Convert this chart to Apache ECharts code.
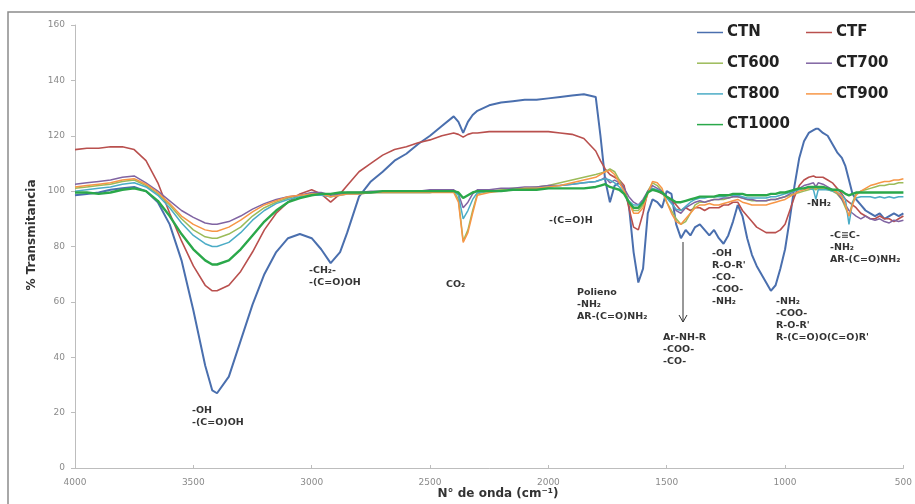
<!DOCTYPE html>
<html><head><meta charset="utf-8">
<script src="https://cdn.jsdelivr.net/npm/echarts@6/dist/echarts.min.js"></script>
<style>html,body{margin:0;padding:0;background:#fff}#c{width:915px;height:504px}</style>
</head><body><div id="c"></div>
<script>
// Wavenumbers (cm-1)
const wn = [4000,3950,3900,3850,3800,3750,3700,3650,3600,3550,
3500,3450,3420,3400,3350,3300,3250,3200,3150,3100,
3050,3000,2960,2920,2880,2850,2800,2750,2700,2650,
2600,2550,2500,2450,2400,2380,2360,2340,2320,2300,
2250,2200,2150,2100,2050,2000,1950,1900,1850,1800,
1780,1760,1740,1720,1700,1680,1660,1640,1620,1600,
1580,1560,1540,1520,1500,1480,1460,1440,1420,1400,
1380,1360,1340,1320,1300,1280,1260,1240,1220,1200,
1180,1160,1140,1120,1100,1080,1060,1040,1020,1000,
980,960,940,920,900,880,870,860,840,820,
800,780,760,745,730,715,700,680,660,640,
620,600,580,560,540,520,500];

const CTN = [98.5,99,99.5,100.5,101,101.5,100,96,88,75,
57,37,28,27,33,46,59,70,78,83,
84.5,83,79,74,78,85,98,103.5,107,111,
113.5,117,120,123.5,127,125,121,125,127.5,129,
131,132,132.5,133,133,133.5,134,134.5,135,134,
120,104,96,102,103,101,95,78,67,72,
92,97,96,94,100,99,88,83,86,84,
87,88,86,84,86,83,81,84,89,95,
91,83,77,73,70,67,64,66,72,79,
90,102,112,118,121,122,122.5,122.5,121,120,
117,114,112,109,104,99,97,95,93,92,
91,92,90,91,92,91,92];

const CTF = [115,115.5,115.5,116,116,115,111,103,92,82,
73,66,64,64,66,71,78,86,92,96,
99,100.5,99,96,99,102,107,110,113,115,
116,117.5,118.5,120,121,120.5,119.5,120.5,121,121,
121.5,121.5,121.5,121.5,121.5,121.5,121,120.5,119,114.5,
111,108,106,105,104,102,94,87,86,92,
100,101,100,99,98,97,95,93,94,93,
94,94,93,94,94,94,95,95,96,96,
93,91,89,87,86,85,85,85,86,88,
93,98,102,104,105,105.5,105,105,105,104,
103,101,99,97,96,95,94,92,91,90,
90,91,90,90,89,90,91];

const CT600 = [101,101.5,102,102.5,103.5,104,102,99,95,90,
86,83.5,83,83,84.5,87,91,94,96,97.5,
98.5,99,99,98,99,99.5,99.5,99.5,99.5,99.5,
99.5,99.5,99.5,100,100,97,82,86,93,99,
100,100.5,101,101,101.5,102,103,104,105,106,
106.5,107,108,107,104,100,96,93,93,95,
100,103,102,100,96,93,90,88,89,92,
95,96,96,96.5,97,97,97,97.5,98,98,
97.5,97,96.5,96.5,96.5,96.5,97,97,97.5,98,
98.5,99,99.5,100,100.5,101,100.5,101,101,100.5,
100,99,97,94,91,96,99,100,100.5,101,
101.5,102,102,102.5,102.5,103,103];

const CT700 = [102.5,103,103.5,104,105,105.5,103,100,96.5,93,
90.5,88.5,88,88,89,91,93.5,95.5,97,98,
98.5,99.5,99.5,98.5,99,99.5,99.5,100,100,100,
100,100,100.5,100.5,100.5,99,94,96,99,100.5,
100.5,101,101,101.5,101.5,102,102,102.5,103,103.5,
104,105,103,104,103,101,98,96,95,97,
100,102,101,100,98,96,93,92,94,95,
96,96.5,96,96.5,97,97,97.5,97.5,98,98,
97.5,97,97,96.5,96.5,96.5,97,97,97.5,98,
99,100,101,102,102.5,103,101.5,103,102.5,101.5,
100.5,99.5,97,95,93,92,91,90,91,90,
89.5,90,89,88.5,89.5,89,89.5];

const CT800 = [100,100.5,101,101.5,102.5,103,101.5,98.5,94,88.5,
84,81,80,80,81.5,85,89.5,93,95.5,97,
98,98.5,98.5,98,98.5,99,99,99.5,99.5,99.5,
99.5,99.5,99.5,100,100,98.5,90,93,97,99.5,
100,100,100.5,101,101,101.5,102,102.5,103,103.5,
104,104.5,104,103,101.5,99.5,96.5,95,95,96,
99.5,101,100.5,99.5,97.5,95.5,93.5,93,94.5,96,
97,97.5,97.5,98,98,98,98,98.5,98.5,98.5,
98,97.5,97.5,97.5,97.5,97.5,98,98,98.5,99,
99.5,100,100.5,101,101,100.5,97,100.5,100.5,100.5,
100,99.5,98.5,97,88,96,97.5,98,98,98,
97.5,98,97.5,98,97.5,98,98];

const CT900 = [101.5,102,102.5,103,104,104.5,102.5,99.5,95.5,91,
88,86,85.5,85.5,87,89.5,92.5,95,96.5,98,
98.5,99,99,98,98.5,99,99,99.5,99.5,99.5,
99.5,99.5,99.5,99.5,99.5,96,81.5,85,92,98.5,
99.5,100,100.5,101,101,101.5,102,103,104,105,
106,107,107.5,106,103,100,96,92,92,94,
99,103.5,103,101,96,92,89,88,90,92,
94,95,95,95.5,95,95,95.5,96,96.5,97,
96,95.5,95,95,95,95,95.5,96,96.5,97,
98,99,100,100.5,101,101.5,101,101.5,101.5,101,
100.5,99.5,98,95,91,95,98.5,100,101,102,
102.5,103,103.5,103.5,104,104,104.5];

const CT1000 = [99.5,99.5,99,99.5,100.5,101,100,96.5,91,84.5,
79,75,73.5,73.5,75,79,84,89,93,96,
97.5,98.5,99,99,99.5,99.5,99.5,99.5,100,100,
100,100,100,100,100,99.5,97.5,98.5,99.5,100,
100,100,100.5,100.5,100.5,101,101,101,101,101.5,
102,102.5,101.5,101,100.5,99,96,94,94,96,
99.5,100.5,100,99.5,98,97,96,96,96.5,97,
97.5,98,98,98,98,98.5,98.5,98.5,99,99,
99,98.5,98.5,98.5,98.5,98.5,99,99,99.5,99.5,
100,100.5,101,101,101.5,101.5,101.5,101.5,101.5,101,
100.5,100.5,100,99,98.5,99,99.5,99.5,99.5,99.5,
99.5,99.5,99.5,99.5,99.5,99.5,99.5];

const seriesNames = ['CTN','CTF','CT600','CT700','CT800','CT900','CT1000'];
const seriesValues = [CTN, CTF, CT600, CT700, CT800, CT900, CT1000];
const colors = ['#4A6FAE','#B9504E','#9BBB59','#8064A2','#4BACC6','#F79646','#2AA84A'];
const widths = [2, 1.6, 1.5, 1.5, 1.5, 1.5, 2.4];

const chart = echarts.init(document.getElementById('c'), null, {renderer: 'canvas'});
const F = 'DejaVu Sans';
const annoStyle = (x, y, text) => ({
  type: 'text', x: x, y: y, z: 100,
  style: {text: text, fill: '#333', font: 'bold 9.5px "DejaVu Sans"', lineHeight: 11.8, verticalAlign: 'top', align: 'left'}
});
const legendCommon = {
  orient: 'vertical', top: 25, padding: 0, itemWidth: 26, itemHeight: 1.5, itemGap: 15.7, icon: 'rect',
  textStyle: {fontFamily: F, fontWeight: 'bold', fontSize: 15, lineHeight: 15, color: '#222', padding: [0, 0, 0, -1]}
};

chart.setOption({
  animation: false,
  backgroundColor: '#fff',
  color: colors,
  grid: {left: 75, right: 6, top: 25, bottom: 36},
  xAxis: {
    type: 'value', inverse: true, min: 500, max: 4000, interval: 500,
    axisLine: {show: true, lineStyle: {color: '#bdbdbd', width: 1}},
    axisTick: {show: true, inside: true, length: 3, lineStyle: {color: '#bdbdbd'}},
    axisLabel: {color: '#8a8a8a', fontFamily: F, fontSize: 9, margin: 10, formatter: v => String(v)},
    splitLine: {show: false}
  },
  yAxis: {
    type: 'value', min: 0, max: 160, interval: 20,
    axisLine: {show: true, lineStyle: {color: '#bdbdbd', width: 1}},
    axisTick: {show: true, inside: false, length: 4, lineStyle: {color: '#bdbdbd'}},
    axisLabel: {color: '#8a8a8a', fontFamily: F, fontSize: 9, margin: 10, formatter: v => String(v)},
    splitLine: {show: false}
  },
  legend: [
    Object.assign({data: ['CTN','CT600','CT800','CT1000'], left: 697}, legendCommon),
    Object.assign({data: ['CTF','CT700','CT900'], left: 806}, legendCommon)
  ],
  series: seriesNames.map((n, k) => ({
    name: n, type: 'line', symbol: 'none', smooth: false,
    data: wn.map((w, i) => [w, seriesValues[k][i]]),
    lineStyle: {width: widths[k], color: colors[k]},
    itemStyle: {color: colors[k]},
    z: 2 + k
  })),
  graphic: [
    {type: 'rect', shape: {x: 8, y: 12, width: 920, height: 500}, style: {fill: 'none', stroke: '#8c8c8c', lineWidth: 1.5}, z: 0},
    {type: 'text', x: 32, y: 235, rotation: Math.PI / 2, z: 100,
     style: {text: '% Transmitancia', fill: '#333', font: 'bold 12px "DejaVu Sans"', align: 'center', verticalAlign: 'middle'}},
    {type: 'text', x: 498, y: 494, z: 100,
     style: {text: 'N° de onda (cm⁻¹)', fill: '#333', font: 'bold 12px "DejaVu Sans"', align: 'center', verticalAlign: 'middle'}},
    annoStyle(192, 405, '-OH\n-(C=O)OH'),
    annoStyle(309, 265, '-CH₂-\n-(C=O)OH'),
    annoStyle(446, 279, 'CO₂'),
    annoStyle(549, 215, '-(C=O)H'),
    annoStyle(577, 287, 'Polieno\n-NH₂\nAR-(C=O)NH₂'),
    annoStyle(663, 332, 'Ar-NH-R\n-COO-\n-CO-'),
    annoStyle(712, 248, '-OH\nR-O-R\'\n-CO-\n-COO-\n-NH₂'),
    annoStyle(776, 296, '-NH₂\n-COO-\nR-O-R\'\nR-(C=O)O(C=O)R\''),
    annoStyle(807, 198, '-NH₂'),
    annoStyle(830, 230, '-C≡C-\n-NH₂\nAR-(C=O)NH₂'),
    {type: 'polyline', shape: {points: [[683, 242], [683, 322]]}, style: {stroke: '#333', lineWidth: 1}, z: 100},
    {type: 'polyline', shape: {points: [[679, 315], [683, 322], [687, 315]]}, style: {stroke: '#333', lineWidth: 1, fill: 'none'}, z: 100}
  ]
});
</script></body></html>
